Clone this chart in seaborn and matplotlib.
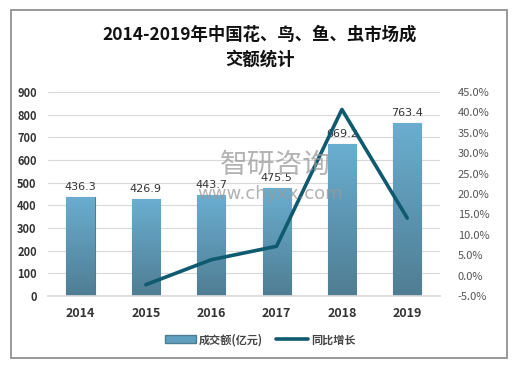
import numpy as np
import pandas as pd
import matplotlib
matplotlib.use("Agg")
import matplotlib.pyplot as plt
import seaborn as sns
from matplotlib.patches import Rectangle
from matplotlib.lines import Line2D

sns.set_theme(style="white")
plt.rcParams['font.family'] = ['Noto Sans CJK SC', 'DejaVu Sans']
plt.rcParams['axes.unicode_minus'] = False

years = ['2014', '2015', '2016', '2017', '2018', '2019']
amount = [436.3, 426.9, 443.7, 475.5, 669.2, 763.4]
growth_years = ['2015', '2016', '2017', '2018', '2019']
growth = [-2.2, 3.9, 7.2, 40.7, 14.1]

df = pd.DataFrame({'year': years, 'amount': amount})
dg = pd.DataFrame({'year': growth_years, 'growth': growth})
dg['pos'] = [years.index(y) for y in growth_years]

fig = plt.figure(figsize=(5.2, 3.66), dpi=100)
ax = fig.add_axes([0.092, 0.191, 0.754, 0.558])

sns.barplot(data=df, x='year', y='amount', ax=ax, width=0.43,
            color='#5f9fbf', edgecolor='#4d7d92', linewidth=0.8)

# gradient fill inside each bar
grad = np.linspace(0, 1, 256).reshape(-1, 1)
cmap = matplotlib.colors.LinearSegmentedColormap.from_list('g', ['#4f7d93', '#6aaed0'])
for p in ax.patches:
    x0, y0 = p.get_x(), p.get_y()
    w, h = p.get_width(), p.get_height()
    im = ax.imshow(grad, cmap=cmap, aspect='auto', origin='lower',
                   extent=[x0, x0 + w, y0, y0 + h], zorder=p.get_zorder())
    im.set_clip_path(p)
    ax.text(x0 + w / 2, h + 22, f'{h:.1f}', ha='center', va='bottom',
            fontsize=8, color='#333333', family=['DejaVu Sans'])
ax.set_aspect('auto')
ax.set_xlim(-0.5, 5.5)
ax.set_ylim(0, 900)

ax.set_yticks(range(0, 901, 100))
ax.yaxis.grid(True, color='#d9d9d9', linewidth=0.8)
ax.set_axisbelow(True)
for s in ['top', 'right', 'left']:
    ax.spines[s].set_visible(False)
ax.spines['bottom'].set_color('#d9d9d9')
ax.set_xlabel('')
ax.set_ylabel('')
ax.tick_params(axis='both', length=0, pad=8)
for lab in ax.get_yticklabels():
    lab.set_fontsize(8)
    lab.set_fontweight('bold')
    lab.set_color('#333333')
for lab in ax.get_xticklabels():
    lab.set_fontsize(9)
    lab.set_fontweight('bold')
    lab.set_color('#333333')

ax2 = ax.twinx()
sns.lineplot(data=dg, x='pos', y='growth', ax=ax2, color='#0f5a6e',
             linewidth=2.6, legend=False)
ax2.set_ylim(-5, 45)
ax2.set_yticks(range(-5, 46, 5))
ax2.set_yticklabels([f'{v:.1f}%' for v in range(-5, 46, 5)])
ax2.set_ylabel('')
ax2.set_xlim(-0.5, 5.5)
for s in ax2.spines.values():
    s.set_visible(False)
ax2.tick_params(axis='y', length=0, pad=13, labelsize=8, labelcolor='#555555')

# watermark (overlaps the labels in the reference as well)
fig.text(0.53, 0.55, '智研咨询', fontsize=20, color='#9a9a9a', alpha=0.75,
         ha='center', va='center')
fig.text(0.52, 0.47, 'www.chyxx.com', fontsize=13, color='#9a9a9a', alpha=0.75,
         ha='center', va='center', family=['DejaVu Sans'])

fig.text(0.5, 0.905, '2014-2019年中国花、鸟、鱼、虫市场成', ha='center',
         va='center', fontsize=12.5, fontweight='bold', color='#111111')
fig.text(0.5, 0.836, '交额统计', ha='center', va='center', fontsize=12.5,
         fontweight='bold', color='#111111')

handles = [Rectangle((0, 0), 1, 1, facecolor='#5f9fbf', edgecolor='#4d7d92'),
           Line2D([0], [0], color='#0f5a6e', linewidth=2.6)]
fig.legend(handles, ['成交额(亿元)', '同比增长'], loc='center',
           bbox_to_anchor=(0.5, 0.072), ncol=2, frameon=False,
           prop={'size': 8, 'weight': 'bold'}, labelcolor='#444444',
           handlelength=2.8, columnspacing=1.2, handletextpad=0.3)

fig.patches.append(Rectangle((11 / 520, 8 / 366), 496 / 520, 348 / 366,
                             transform=fig.transFigure, fill=False,
                             edgecolor='#888888', linewidth=1.2))

fig.savefig('out.png', dpi=100)
